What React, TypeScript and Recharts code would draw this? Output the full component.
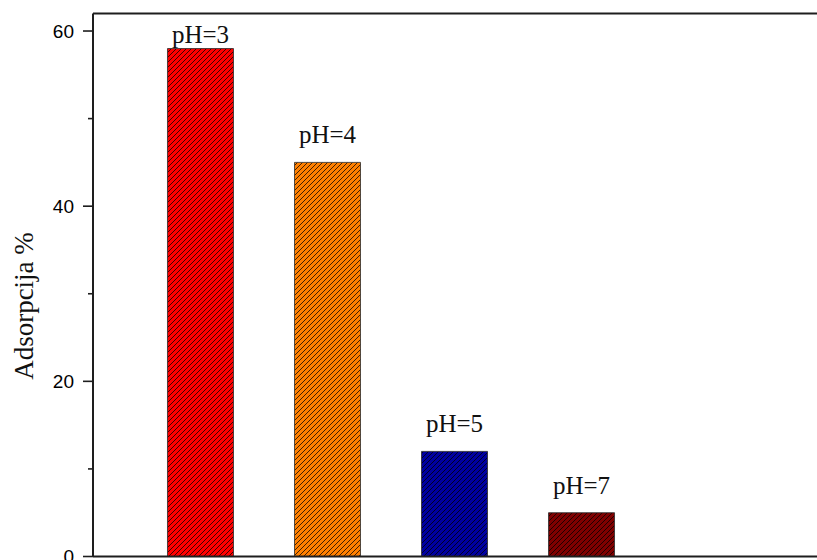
import React from 'react';
import { BarChart, Bar, XAxis, YAxis, Cell, LabelList, ReferenceLine } from 'recharts';

const categories = ['pH=3', 'pH=4', 'pH=5', 'pH=7'];
const adsorption = [58, 45, 12, 5];
const barColors = ['#ff0000', '#ff8000', '#0000a0', '#800000'];
const yTicks = [0, 10, 20, 30, 40, 50, 60];
const yMajor = [0, 20, 40, 60];

const data = categories.map((name, i) => ({ name, pos: i + 1, value: adsorption[i] }));

const AXIS = '#1e1e1e';
const TICK_SIZE = 10;
const TICK_MARGIN = 9;

// left axis ticks: long ticks with labels at 0/20/40/60, short ones between
const YTick = (props: any) => {
  const { x, y, payload } = props;
  const major = yMajor.includes(payload.value);
  const axisX = x + TICK_MARGIN + TICK_SIZE;
  return (
    <g>
      <line x1={axisX - (major ? TICK_SIZE : 5)} x2={axisX} y1={y} y2={y} stroke={AXIS} strokeWidth={1.6} />
      {major && (
        <text x={x} y={y} dy="0.36em" textAnchor="end" fontFamily="Liberation Sans, Arial" fontSize={19} fill="#000">
          {payload.value}
        </text>
      )}
    </g>
  );
};

const renderBarLabel = (props: any) => {
  const { x, y, width, index } = props;
  // first label sits tight under the frame, the others float higher
  const gap = index === 0 ? 6 : 19;
  return (
    <text x={x + width / 2} y={y - gap} textAnchor="middle" fontFamily="Liberation Serif, Times New Roman" fontSize={25} fill="#111">
      {categories[index]}
    </text>
  );
};

const renderTitle = (props: any) => {
  const { viewBox } = props;
  const cx = viewBox.x + 33;
  const cy = viewBox.y + viewBox.height / 2 + 21;
  return (
    <text x={cx} y={cy} transform={`rotate(-90, ${cx}, ${cy})`} textAnchor="middle" fontFamily="Liberation Serif, Times New Roman" fontSize={27} fill="#111">
      Adsorpcija %
    </text>
  );
};

export default function App() {
  return (
    <div style={{ position: 'absolute', left: 0, top: 0, width: 817, height: 560, overflow: 'hidden', background: '#fff' }}>
      <BarChart width={817} height={600} data={data} margin={{ top: 13.5, right: 0, bottom: 13.5, left: 0 }}>
        <defs>
          {barColors.map((c, i) => (
            <pattern key={i} id={`hatch${i}`} patternUnits="userSpaceOnUse" width={5} height={5}>
              <rect width={5} height={5} fill={c} />
              <path d="M-1,1 l2,-2 M0,5 l5,-5 M4,6 l2,-2" stroke="#000" strokeOpacity={0.75} strokeWidth={1} />
            </pattern>
          ))}
        </defs>
        <XAxis
          type="number"
          dataKey="pos"
          domain={[0.1575, 5.858]}
          allowDataOverflow
          tick={false}
          tickLine={false}
          height={30}
          axisLine={{ stroke: AXIS, strokeWidth: 2 }}
        />
        <YAxis
          type="number"
          domain={[0, 62]}
          ticks={yTicks}
          interval={0}
          width={93}
          tickSize={TICK_SIZE}
          tickMargin={TICK_MARGIN}
          tickLine={false}
          axisLine={{ stroke: AXIS, strokeWidth: 2 }}
          tick={(p: any) => <YTick {...p} />}
          label={{ content: renderTitle }}
        />
        <ReferenceLine y={62} stroke={AXIS} strokeWidth={2} />
        <Bar dataKey="value" barSize={66} stroke="#2a2a2a" strokeWidth={0.8} isAnimationActive={false}>
          {data.map((d, i) => (
            <Cell key={d.name} fill={`url(#hatch${i})`} />
          ))}
          <LabelList dataKey="name" content={renderBarLabel} />
        </Bar>
      </BarChart>
    </div>
  );
}
